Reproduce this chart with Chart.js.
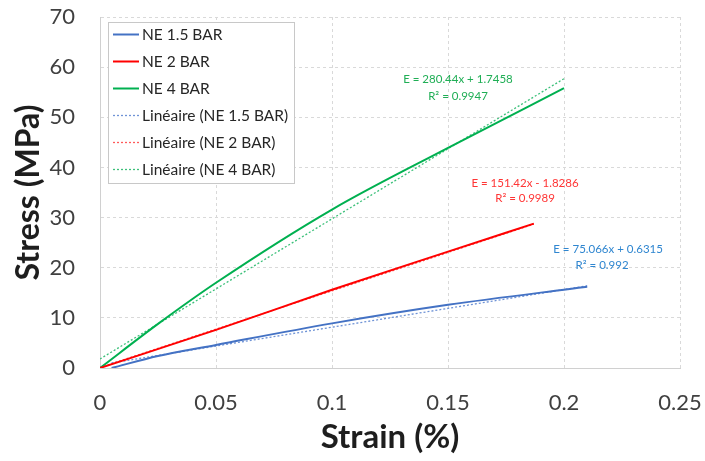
<!DOCTYPE html>
<html>
<head>
<meta charset="utf-8">
<script src="https://cdn.jsdelivr.net/npm/chart.js@4.4.0/dist/chart.umd.min.js"></script>
<style>
body { margin: 0; background: #fff; }
</style>
</head>
<body>
<canvas id="graf" width="705" height="461"></canvas>
<script>
// courbes mesurees
var strain15 = [0.005, 0.025, 0.05, 0.1, 0.15, 0.21]
var stress15 = [0, 2.4, 4.6, 8.9, 12.6, 16.2]
var strain2 = [0, 0.05, 0.1, 0.15, 0.187]
var stress2 = [0, 7.6, 15.6, 23.2, 28.8]
var strain4 = [0, 0.025, 0.05, 0.1, 0.15, 0.2]
var stress4 = [0, 8.8, 17.0, 31.6, 43.9, 55.8]

// courbes de tendance (Linéaire)
var trendStrain15 = [0.005, 0.21]
var trendStress15 = [1.0, 16.4]
var trendStrain2 = [0, 0.187]
var trendStress2 = [0.1, 28.7]
var trendStrain4 = [0, 0.2]
var trendStress4 = [1.8, 57.7]

var labels = ['NE 1.5 BAR', 'NE 2 BAR', 'NE 4 BAR', 'Linéaire (NE 1.5 BAR)', 'Linéaire (NE 2 BAR)', 'Linéaire (NE 4 BAR)']
var xTicks = ['0', '0.05', '0.1', '0.15', '0.2', '0.25']
var yTicks = ['0', '10', '20', '30', '40', '50', '60', '70']
var equations = [
    ['E = 280.44x + 1.7458', 'R² = 0.9947'],
    ['E = 151.42x - 1.8286', 'R² = 0.9989'],
    ['E = 75.066x + 0.6315', 'R² = 0.992']
]

const BLEU = '#4472C4', ROUGE = '#FF0000', VERT = '#00B050'
const FONTE = 'Lato, "Liberation Sans", sans-serif'

function pts(xs, ys) {
    return xs.map((x, i) => ({ x: x, y: ys[i] }))
}

// position des equations (en unites du graphique)
const eqPos = [
    { color: '#1FAE55', x: [0.1543, 0.1543], y: [57.5, 54.1] },
    { color: '#FF3535', x: [0.1832, 0.1832], y: [36.9, 33.8] },
    { color: '#2F86D0', x: [0.219, 0.2164], y: [23.6, 20.4] }
]

const equationsPlugin = {
    id: 'equations',
    afterDatasetsDraw(chart) {
        const ctx = chart.ctx
        const xs = chart.scales.x, ys = chart.scales.y
        ctx.save()
        ctx.font = '11.5px ' + FONTE
        ctx.textAlign = 'center'
        ctx.textBaseline = 'middle'
        equations.forEach((eq, i) => {
            ctx.fillStyle = eqPos[i].color
            eq.forEach((txt, j) => {
                ctx.fillText(txt, xs.getPixelForValue(eqPos[i].x[j]), ys.getPixelForValue(eqPos[i].y[j]))
            })
        })
        ctx.restore()
    }
}

const legendePlugin = {
    id: 'legende',
    afterDraw(chart) {
        const ctx = chart.ctx
        ctx.save()
        ctx.fillStyle = '#fff'
        ctx.fillRect(108.5, 22.5, 186, 161)
        ctx.strokeStyle = '#c8c8c8'
        ctx.lineWidth = 1
        ctx.strokeRect(108.5, 22.5, 186, 161)
        ctx.font = '15.5px ' + FONTE
        ctx.textBaseline = 'middle'
        chart.data.datasets.forEach((ds, i) => {
            let y = 34.5 + i * 27
            ctx.strokeStyle = ds.borderColor
            ctx.lineWidth = ds.borderWidth
            ctx.setLineDash(ds.borderDash || [])
            ctx.beginPath()
            ctx.moveTo(113, y)
            ctx.lineTo(139, y)
            ctx.stroke()
            ctx.setLineDash([])
            ctx.fillStyle = '#262626'
            ctx.fillText(ds.label, 142, y)
        })
        ctx.restore()
    }
}

function serie(label, xs, ys, color, trend) {
    return {
        label: label,
        data: pts(xs, ys),
        borderColor: color,
        borderWidth: trend ? 1.3 : 2,
        borderDash: trend ? [2, 2] : undefined,
        pointRadius: 0,
        fill: false,
        cubicInterpolationMode: trend ? 'default' : 'monotone'
    }
}

// taille fixe des axes, sans marge automatique
function fixeAxe(s, w, h) {
    if (w) s.width = w
    if (h) s.height = h
    s.paddingTop = 0
    s.paddingBottom = 0
    s.paddingLeft = 0
    s.paddingRight = 0
}

var ctx = document.getElementById('graf').getContext('2d')
var chart = new Chart(ctx, {
    type: 'line',
    data: {
        datasets: [
            serie(labels[0], strain15, stress15, BLEU, false),
            serie(labels[1], strain2, stress2, ROUGE, false),
            serie(labels[2], strain4, stress4, VERT, false),
            serie(labels[3], trendStrain15, trendStress15, '#6F93D6', true),
            serie(labels[4], trendStrain2, trendStress2, '#FF5A5A', true),
            serie(labels[5], trendStrain4, trendStress4, '#3CC07A', true)
        ]
    },
    options: {
        responsive: false,
        animation: false,
        layout: { padding: { top: 17, right: 25, bottom: 0, left: 0 } },
        plugins: {
            legend: { display: false },
            tooltip: { enabled: false }
        },
        scales: {
            x: {
                type: 'linear',
                min: 0,
                max: 0.25,
                afterFit: s => fixeAxe(s, 0, 93),
                afterBuildTicks: s => { s.ticks = xTicks.map(t => ({ value: parseFloat(t) })) },
                ticks: {
                    padding: 22,
                    color: '#404040',
                    font: { family: FONTE, size: 22 },
                    maxRotation: 0,
                    callback: (v, i) => xTicks[i]
                },
                grid: { color: '#d9d9d9', lineWidth: 1, drawTicks: false },
                border: { display: true, color: '#d0d0d0', dash: [3, 3] },
                title: {
                    display: true,
                    text: 'Strain (%)',
                    color: '#1e1e1e',
                    font: { family: FONTE, size: 33, weight: 'bold' },
                    padding: { top: 0, bottom: 4 }
                }
            },
            y: {
                min: 0,
                max: 70,
                afterFit: s => fixeAxe(s, 100, 0),
                afterBuildTicks: s => { s.ticks = yTicks.map(t => ({ value: parseFloat(t) })) },
                ticks: {
                    padding: 25,
                    color: '#404040',
                    font: { family: FONTE, size: 22 },
                    callback: (v, i) => yTicks[i]
                },
                grid: { color: '#d9d9d9', lineWidth: 1, drawTicks: false },
                border: { display: true, color: '#d0d0d0', dash: [3, 3] },
                title: {
                    display: true,
                    text: 'Stress (MPa)',
                    color: '#1e1e1e',
                    font: { family: FONTE, size: 32, weight: 'bold' },
                    padding: { top: 9, bottom: 0 }
                }
            }
        }
    },
    plugins: [equationsPlugin, legendePlugin]
})
</script>
</body>
</html>
